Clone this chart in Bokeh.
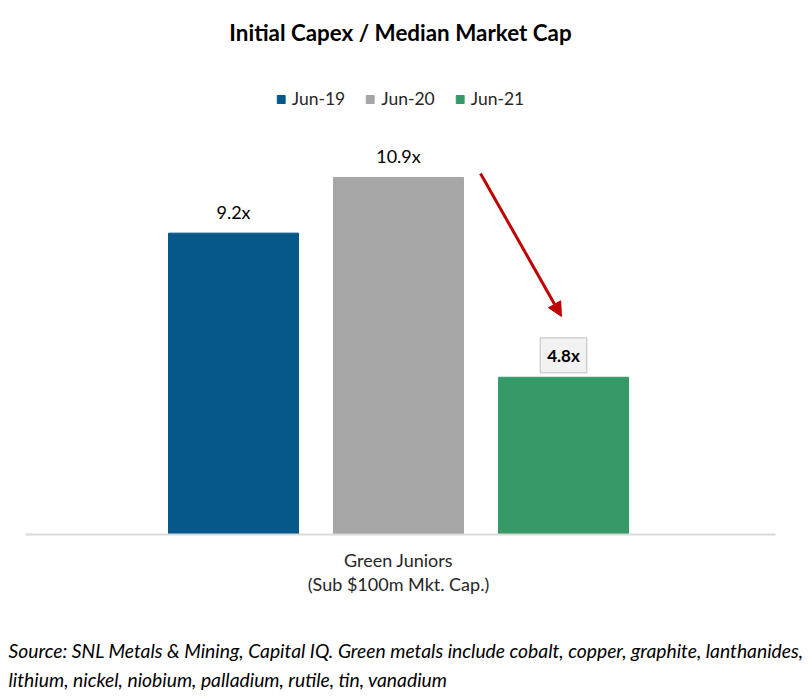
from bokeh.plotting import figure
from bokeh.models import ColumnDataSource, Label, Arrow, NormalHead, FixedTicker, Title
from bokeh.core.properties import value
from bokeh.embed import file_html
from bokeh.resources import INLINE

# ---- data ----
series = ["Jun-19", "Jun-20", "Jun-21"]
values = [9.2, 10.9, 4.8]
colors = ["#05598A", "#A6A6A6", "#359A68"]
category_label = "Green Juniors\n(Sub $100m Mkt. Cap.)"
title_text = "Initial Capex / Median Market Cap"
source_lines = [
    "Source: SNL Metals & Mining, Capital IQ. Green metals include cobalt, copper, graphite, lanthanides,",
    "lithium, nickel, niobium, palladium, rutile, tin, vanadium",
]

FONT = "Lato"
W, H = 812, 699
X0, X1 = -2.2606, 2.2848
Y0, Y1 = 0, 14.47

# helpers converting pixel positions (annotations only) to data space
def dx(px):
    return (px - 398) / 165.0

def dy(py):
    return (534 - py) / 32.75

xs = [i - 1 for i in range(len(series))]
labels = [f"{v}x" for v in values]
src = ColumnDataSource(dict(x=xs, top=values, color=colors, series=series))

p = figure(width=W, height=H, output_backend="svg", toolbar_location=None,
           x_range=(X0, X1), y_range=(Y0, Y1),
           min_border_left=25, min_border_right=37, min_border_top=60, min_border_bottom=165)

p.title.text = title_text
p.title.align = "center"
p.title.text_font = FONT
p.title.text_font_size = "22.4px"
p.title.text_font_style = "bold"
p.title.text_color = "#000000"
p.title.standoff = 29

p.vbar(x="x", top="top", width=130 / 165.0, color="color", source=src, legend_field="series")

# data labels (first two plain)
src2 = ColumnDataSource(dict(x=xs[:2], y=[v + 0.65 for v in values[:2]], text=labels[:2]))
p.text(x="x", y="y", text="text", source=src2, text_align="center", text_baseline="middle",
       text_font=value(FONT), text_font_size="18px", text_color="#000000")

# highlighted label
p.add_layout(Label(x=xs[2], y=values[2] + 0.67, text=labels[2], text_align="center",
                   text_baseline="middle", text_font=FONT, text_font_size="17px",
                   text_font_style="bold", text_color="#000000",
                   background_fill_color="#F2F2F2", border_line_color="#BFBFBF",
                   border_line_width=1, padding=7))

# arrow
p.add_layout(Arrow(x_start=dx(480), y_start=dy(173), x_end=dx(561), y_end=dy(316),
                   line_color="#C00000", line_width=3,
                   end=NormalHead(size=14, fill_color="#C00000", line_color="#C00000")))

# spacer between the axis labels and the source note
p.add_layout(Title(text=" ", text_font_size="1px", standoff=36), "below")
# source notes below the axis
p.add_layout(Title(text="\n".join(source_lines), align="left", vertical_align="top",
                   text_font=FONT, text_font_size="19.3px", text_font_style="italic",
                   text_color="#000000", text_line_height=1.3, standoff=4, offset=-17), "below")

# axes
p.yaxis.visible = False
p.xaxis.ticker = FixedTicker(ticks=[0])
p.xaxis.major_label_overrides = {0: category_label}
p.xaxis.major_tick_line_color = None
p.xaxis.minor_tick_line_color = None
p.xaxis.axis_line_color = "#D9D9D9"
p.xaxis.axis_line_width = 2
p.xaxis.major_label_text_font = FONT
p.xaxis.major_label_text_font_size = "18px"
p.xaxis.major_label_text_color = "#262626"
p.xaxis.major_label_text_line_height = 1.1
p.xaxis.major_label_standoff = 8
p.xgrid.grid_line_color = None
p.ygrid.grid_line_color = None
p.outline_line_color = None

# legend
lg = p.legend[0]
lg.orientation = "horizontal"
lg.location = "top_center"
lg.border_line_color = None
lg.background_fill_alpha = 0
lg.glyph_width = 10
lg.glyph_height = 10
lg.label_standoff = 6
lg.spacing = 20
lg.padding = 0
lg.margin = 28
lg.label_height = 20
lg.label_text_font = FONT
lg.label_text_font_size = "17.5px"
lg.label_text_color = "#262626"

open("out.html", "w").write(file_html(p, INLINE))
